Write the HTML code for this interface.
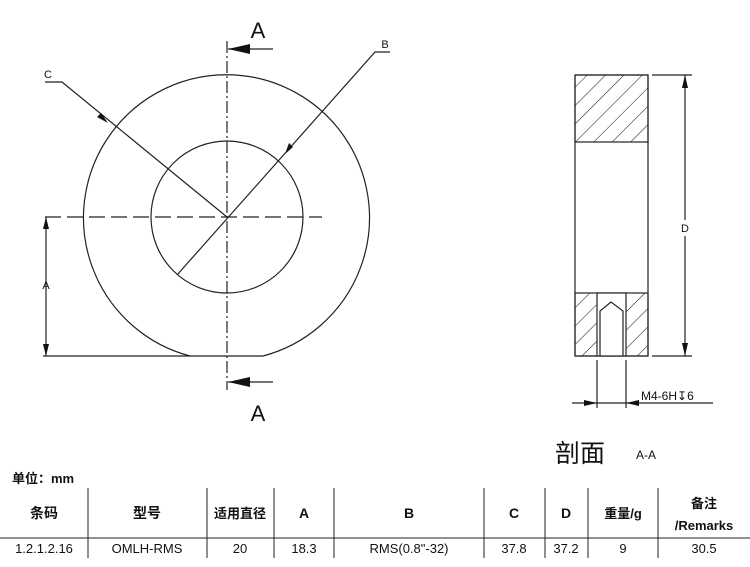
<!DOCTYPE html>
<html><head><meta charset="utf-8"><style>
html,body{margin:0;padding:0;background:#fff;}
svg{display:block;}
.t{font-family:"Liberation Sans","Noto Sans CJK SC",sans-serif;}
</style></head><body>
<svg width="750" height="567" viewBox="0 0 750 567" xmlns="http://www.w3.org/2000/svg">
<defs>
<pattern id="h" width="13" height="13" patternUnits="userSpaceOnUse" patternTransform="rotate(45)">
<line x1="0" y1="0" x2="0" y2="13" stroke="#222" stroke-width="1.1"/>
</pattern>
</defs>
<g stroke="#222" stroke-width="1.2" fill="none">
<path d="M190,356 A143,143 0 1 1 263,356 Z" />
<circle cx="227" cy="217" r="76"/>
<line x1="227" y1="41" x2="227" y2="390" stroke-dasharray="12,3,2,3"/>
<line x1="45" y1="217" x2="322" y2="217" stroke-dasharray="16,6"/>
<line x1="43" y1="356" x2="190" y2="356"/>
<line x1="46" y1="217" x2="46" y2="356"/>
<polyline points="45,82 62,82 227,217"/>
<polyline points="390,52 375,52 177,275"/>
<line x1="228" y1="49" x2="273" y2="49"/>
<line x1="228" y1="382" x2="273" y2="382"/>
<rect x="575" y="75" width="73" height="67" fill="url(#h)"/>
<rect x="575" y="293" width="73" height="63" fill="url(#h)"/>
<rect x="575" y="75" width="73" height="281"/>
<rect x="597" y="293" width="29" height="63" fill="#fff"/>
<polyline points="600,356 600,311 611,302 623,311 623,356"/>
<line x1="652" y1="75" x2="692" y2="75"/>
<line x1="652" y1="356" x2="692" y2="356"/>
<line x1="685" y1="75" x2="685" y2="220"/>
<line x1="685" y1="236" x2="685" y2="356"/>
<line x1="597" y1="360" x2="597" y2="408"/>
<line x1="626" y1="360" x2="626" y2="408"/>
<line x1="572" y1="403" x2="713" y2="403"/>
<line x1="0" y1="538" x2="750" y2="538" stroke-width="1"/>
<g stroke-width="1">
<line x1="88" y1="488" x2="88" y2="558"/><line x1="207" y1="488" x2="207" y2="558"/>
<line x1="274" y1="488" x2="274" y2="558"/><line x1="334" y1="488" x2="334" y2="558"/>
<line x1="484" y1="488" x2="484" y2="558"/><line x1="545" y1="488" x2="545" y2="558"/>
<line x1="588" y1="488" x2="588" y2="558"/><line x1="658" y1="488" x2="658" y2="558"/>
</g>
</g>
<g fill="#111">
<polygon points="46,217 43,229 49,229"/><polygon points="46,356 43,344 49,344"/>
<polygon points="108,123 97,117 101,113"/>
<polygon points="285,154 289,143 293,147"/>
<polygon points="228,49 250,44 250,54"/>
<polygon points="228,382 250,377 250,387"/>
<polygon points="685,75 682,88 688,88"/><polygon points="685,356 682,343 688,343"/>
<polygon points="597,403 584,400 584,406"/><polygon points="626,403 639,400 639,406"/>
</g>
<g class="t" fill="#111">
<text x="258" y="38" font-size="22" text-anchor="middle">A</text>
<text x="258" y="421" font-size="22" text-anchor="middle">A</text>
<text x="48" y="78" font-size="11" text-anchor="middle">C</text>
<text x="385" y="48" font-size="11" text-anchor="middle">B</text>
<text x="46" y="289" font-size="11" text-anchor="middle">A</text>
<text x="685" y="232" font-size="11" text-anchor="middle">D</text>
<text x="641" y="400" font-size="12">M4-6H<tspan font-family="DejaVu Sans">↧</tspan>6</text>
<text x="555" y="462" font-size="25">剖面</text>
<text x="636" y="459" font-size="12">A-A</text>
<text x="12" y="483" font-size="13" font-weight="bold">单位：mm</text>
<g font-size="14" font-weight="bold" text-anchor="middle">
<text x="44" y="518">条码</text><text x="147" y="518">型号</text>
<text x="240" y="518" font-size="13">适用直径</text><text x="304" y="518">A</text>
<text x="409" y="518">B</text><text x="514" y="518">C</text>
<text x="566" y="518">D</text><text x="623" y="518" font-size="13">重量/g</text>
<text x="704" y="508" font-size="13">备注</text><text x="704" y="530" font-size="13">/Remarks</text>
</g>
<g font-size="13" text-anchor="middle">
<text x="44" y="553">1.2.1.2.16</text><text x="147" y="553">OMLH-RMS</text>
<text x="240" y="553">20</text><text x="304" y="553">18.3</text>
<text x="409" y="553">RMS(0.8"-32)</text><text x="514" y="553">37.8</text>
<text x="566" y="553">37.2</text><text x="623" y="553">9</text>
<text x="704" y="553">30.5</text>
</g>
</g>
</svg>
</body></html>
